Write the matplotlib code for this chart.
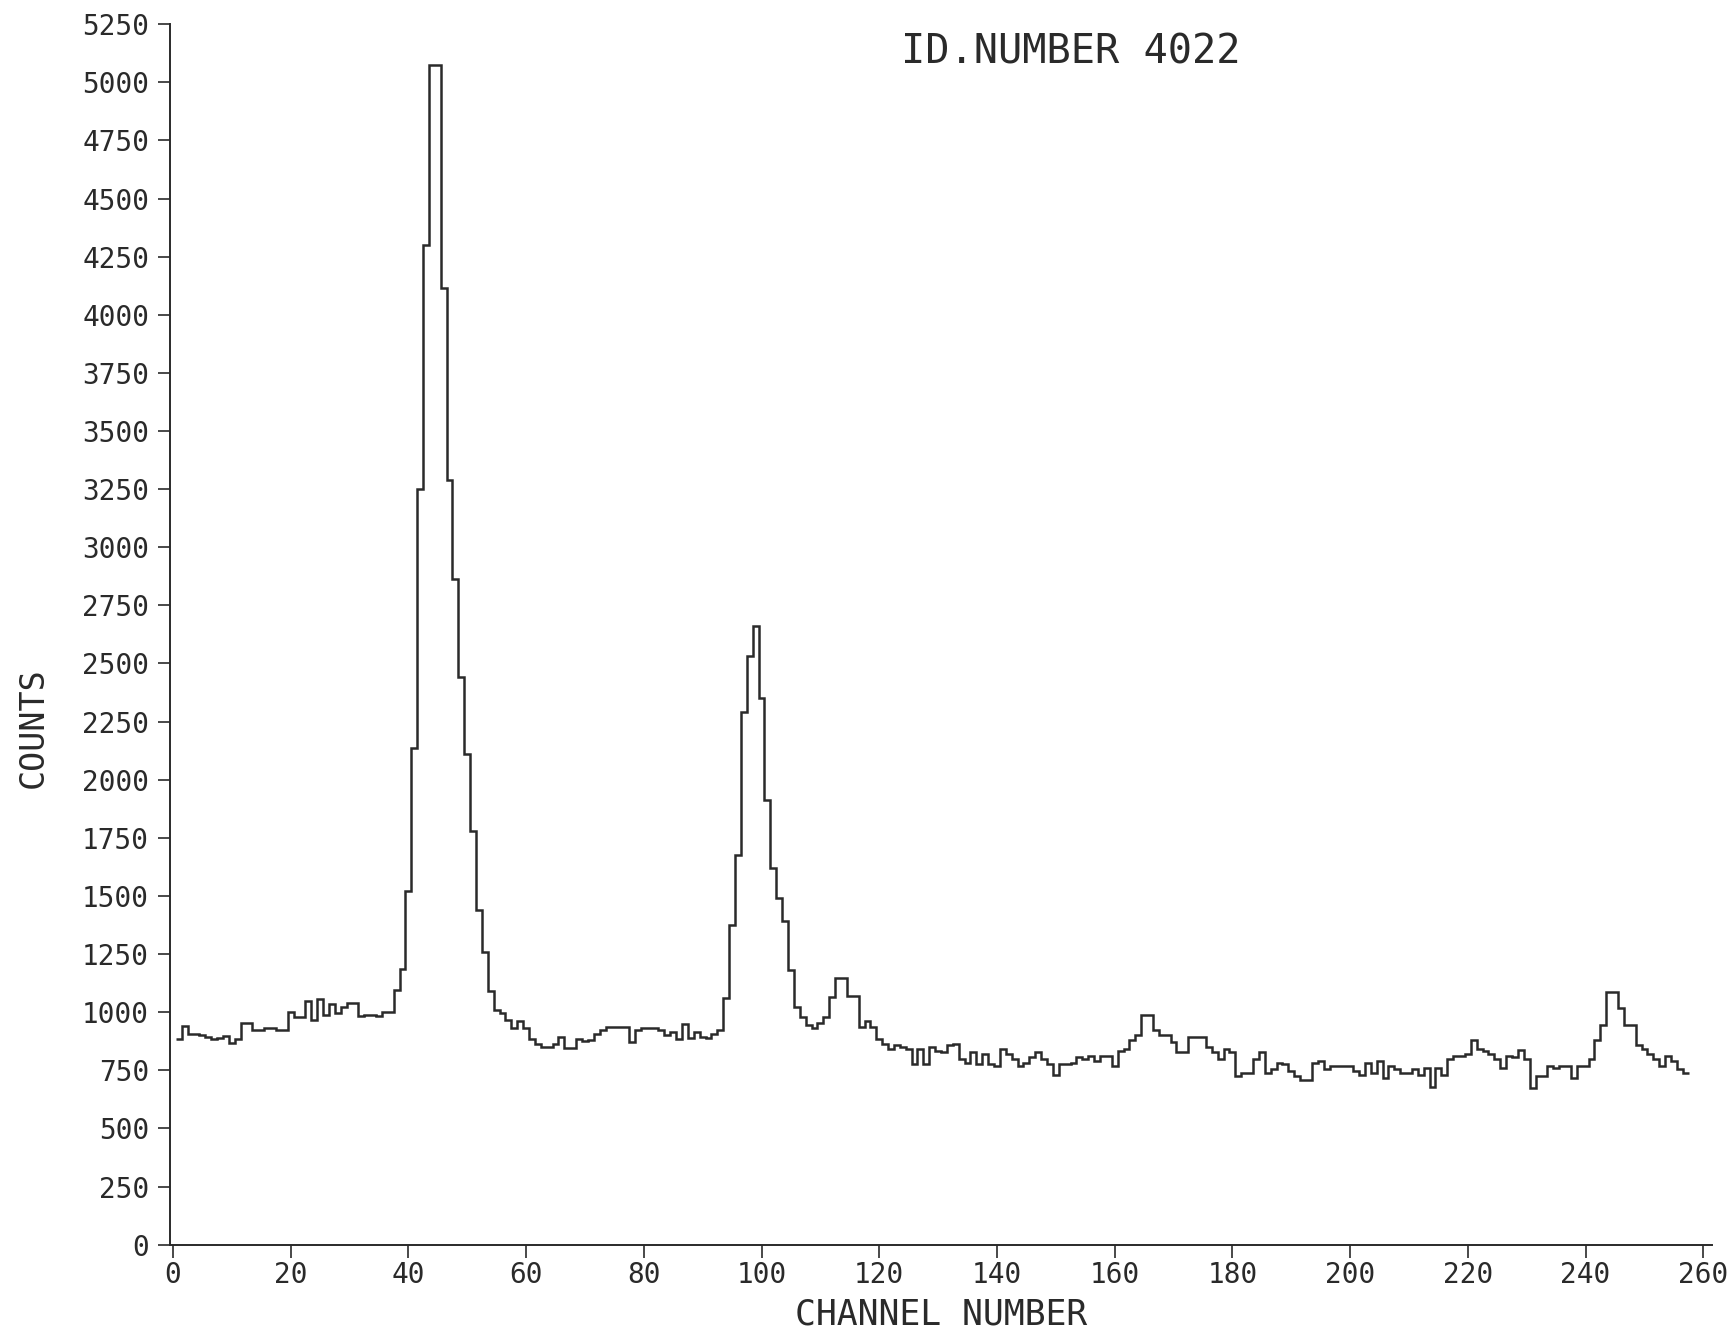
import numpy as np
import matplotlib
matplotlib.use("Agg")
import matplotlib.pyplot as plt

# counts per channel (channels 1..257)
counts = [
    886, 942, 908, 905, 900, 895, 885, 890, 898, 869,
    883, 953, 953, 923, 923, 931, 931, 925, 923, 1000,
    978, 981, 1046, 967, 1056, 989, 1034, 997, 1022, 1041,
    1041, 982, 987, 987, 982, 1000, 1000, 1096, 1184, 1520,
    2138, 3250, 4302, 5076, 5076, 4115, 3291, 2865, 2440, 2111,
    1781, 1438, 1259, 1093, 1011, 997, 967, 930, 960, 930,
    886, 864, 849, 849, 864, 893, 845, 845, 886, 878,
    880, 905, 923, 935, 935, 935, 935, 871, 923, 930,
    930, 930, 923, 901, 915, 886, 948, 890, 915, 895,
    890, 905, 923, 1060, 1375, 1676, 2293, 2533, 2659, 2351,
    1913, 1620, 1491, 1390, 1182, 1024, 981, 945, 932, 955,
    981, 1067, 1146, 1146, 1071, 1071, 937, 960, 937, 886,
    864, 842, 857, 849, 842, 776, 842, 776, 849, 835,
    827, 857, 864, 798, 783, 827, 776, 820, 776, 768,
    842, 820, 798, 768, 783, 805, 827, 798, 776, 731,
    776, 776, 783, 805, 798, 812, 790, 812, 812, 768,
    835, 842, 879, 901, 989, 989, 923, 901, 901, 870,
    827, 827, 894, 894, 894, 850, 827, 798, 842, 827,
    724, 739, 739, 798, 827, 739, 754, 783, 776, 746,
    724, 709, 709, 783, 790, 754, 768, 768, 768, 768,
    746, 731, 783, 739, 790, 716, 768, 754, 739, 739,
    754, 731, 761, 680, 761, 731, 798, 812, 812, 820,
    879, 842, 835, 820, 798, 761, 812, 805, 839, 798,
    673, 724, 724, 768, 761, 768, 768, 716, 768, 768,
    798, 880, 945, 1085, 1085, 1019, 945, 945, 857, 842,
    820, 798, 768, 812, 790, 754, 739,
]
channels = np.arange(1, len(counts) + 1)
xticks = list(range(0, 261, 20))
yticks = list(range(0, 5251, 250))

plt.rcParams['font.family'] = ['DejaVu Sans Mono']
ink = '#2a2a2a'

fig = plt.figure(figsize=(17.27, 13.35), dpi=100)
ax = fig.add_axes([0.0984, 0.0677, 0.8930, 0.9142])

edges = np.append(channels - 0.5, channels[-1] + 0.5)
ax.stairs(counts, edges, baseline=None, color=ink, lw=1.8)

ax.set_xlim(-0.5, 261.5)
ax.set_ylim(0, 5250)
ax.set_xticks(xticks)
ax.set_yticks(yticks)
ax.tick_params(axis='both', direction='out', length=9, width=1.2,
               colors=ink, labelsize=20)
ax.tick_params(axis='y', pad=6)
ax.tick_params(axis='x', pad=3)
for s in ['top', 'right']:
    ax.spines[s].set_visible(False)
for s in ['left', 'bottom']:
    ax.spines[s].set_color(ink)
    ax.spines[s].set_linewidth(1.4)

ax.set_xlabel("CHANNEL NUMBER", fontsize=25, color=ink, labelpad=6)
fig.text(0.019, 0.455, "COUNTS", rotation=90, fontsize=24, color=ink,
         ha='center', va='center')
fig.text(0.620, 0.961, "ID.NUMBER 4022", fontsize=29, color=ink,
         ha='center', va='center')

fig.savefig("out.png", dpi=100)
